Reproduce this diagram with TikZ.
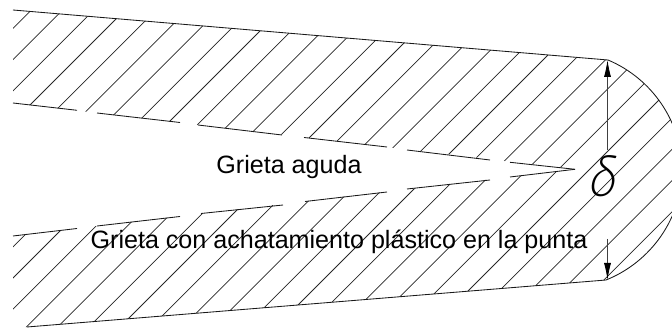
\documentclass[tikz,border=0pt]{standalone}
\usepackage{amsmath}
\usepackage{fontspec}
\setmainfont{Liberation Sans}
\newfontfamily\deltafont{Lato Light}
\usetikzlibrary{arrows.meta}
\tikzset{
  edgeline/.style={line width=0.85pt,black!90},
  hatchline/.style={line width=0.75pt,black!85},
  dimline/.style={line width=0.85pt,black!75,-{Latex[length=17pt,width=7pt,black]}},
  cracklabel/.style={font=\fontsize{25.1}{28}\selectfont,text=black,inner sep=0pt}
}
\begin{document}
\begin{tikzpicture}[x=1pt,y=-1pt]
\clip (0,0) rectangle (672,328);
\coordinate (topl) at (13,10);
\coordinate (topr) at (608,60);
\coordinate (botr) at (606,280);
\coordinate (botl) at (27,327);
\coordinate (tip) at (575,169.3);
\coordinate (upl) at (13,103);
\coordinate (lowl) at (13,236);
\coordinate (dtop) at (607.5,60);
\coordinate (dtopend) at (607.5,150);
\coordinate (dbot) at (607.5,280);
\coordinate (dbotend) at (607.5,239);
% hatching of the body
\begin{scope}
\clip (topl) -- (topr) .. controls (652,78.5) and (682,122) .. (682,170)
  .. controls (682,218) and (651,262) .. (botr) -- (botl) -- (13,328)
  -- (lowl) -- (tip) -- (upl) -- cycle;
\foreach \k in {0,...,27}
  \draw[hatchline] ({41.4+31.2*\k},0) -- ({41.4+31.2*\k-328},328);
\end{scope}
% outline
\draw[edgeline] (topl) -- (topr) .. controls (652,78.5) and (682,122) .. (682,170)
  .. controls (682,218) and (651,262) .. (botr) -- (botl);
% crack faces, broken
\foreach \xa/\ya/\xb/\yb in {13/103/77/110.3,97/113/180/122.5,198/125/282/135,304/137.5/387/147,407/150/490/160,510/162.3/575/169.3,
  13/236/77/228.5,97/226/180/216.5,201/213.5/283/205,305/201.5/387/192,407/189/490/180,510/177/575/169.3}
  \draw[edgeline] (\xa,\ya) -- (\xb,\yb);
% opening
\draw[dimline] (dtopend) -- (dtop);
\draw[dimline] (dbotend) -- (dbot);
\node[inner sep=0pt,xslant=0.2,yscale=1.15] (delta) at (605.5,176.5) {\fontsize{50}{50}\deltafont δ};
\node[cracklabel] (aguda) at (289,167) {Grieta aguda};
\node[cracklabel] (chata) at (339,242) {Grieta con achatamiento plástico en la punta};
\end{tikzpicture}
\end{document}
